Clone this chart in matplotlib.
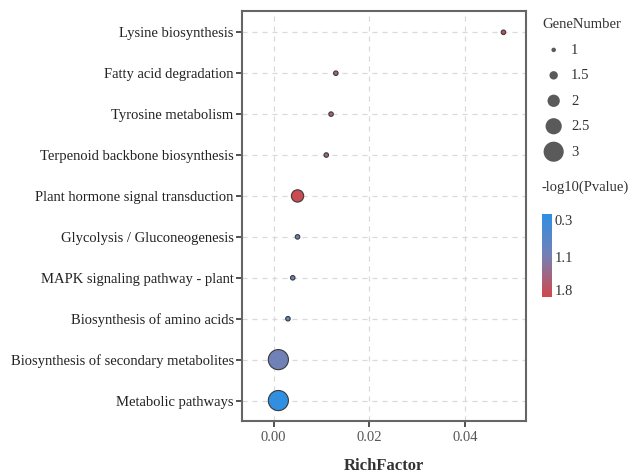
import matplotlib
matplotlib.use("Agg")
import matplotlib.pyplot as plt
import numpy as np
from matplotlib.colors import LinearSegmentedColormap, Normalize
from matplotlib.cm import ScalarMappable

plt.rcParams['font.family'] = ['Liberation Serif', 'DejaVu Serif']

# KEGG enrichment results (bottom to top on the y axis)
pathways = [
    "Metabolic pathways",
    "Biosynthesis of secondary metabolites",
    "Biosynthesis of amino acids",
    "MAPK signaling pathway - plant",
    "Glycolysis / Gluconeogenesis",
    "Plant hormone signal transduction",
    "Terpenoid backbone biosynthesis",
    "Tyrosine metabolism",
    "Fatty acid degradation",
    "Lysine biosynthesis",
]
rich_factor = [0.001, 0.001, 0.003, 0.004, 0.005, 0.005, 0.011, 0.012, 0.013, 0.048]
gene_number = [3, 3, 1, 1, 1, 2, 1, 1, 1, 1]
neg_log10_p = [0.2, 1.0, 0.85, 0.9, 0.95, 1.9, 1.45, 1.5, 1.5, 1.85]

size_breaks = [1, 1.5, 2, 2.5, 3]
color_breaks = [0.3, 1.1, 1.8]
color_limits = (0.17, 1.95)


def marker_area(n):
    # diameter grows linearly with gene count; returned in points^2
    d_px = 4.5 + 7.8 * (np.asarray(n, dtype=float) - 1)
    return (d_px * 0.72) ** 2


cmap = LinearSegmentedColormap.from_list(
    "p_grad", ["#2f8fe3", "#7580b4", "#d0484c"])
norm = Normalize(*color_limits)

fig = plt.figure(figsize=(6.29, 4.74), dpi=100)
ax = fig.add_axes([0.3847, 0.1118, 0.4515, 0.865])

ypos = np.arange(len(pathways))
ax.set_axisbelow(True)
ax.grid(True, color="#d9d9d9", linestyle=(0, (4, 4)), linewidth=0.9)
ax.scatter(rich_factor, ypos, s=marker_area(gene_number), c=neg_log10_p,
           cmap=cmap, norm=norm, edgecolors="#3a3a3a", linewidths=0.8,
           zorder=3)

ax.set_yticks(ypos)
ax.set_yticklabels(pathways, fontsize=10.5, color="#222222")
ax.set_xticks([0.0, 0.02, 0.04])
ax.set_xticklabels(["0.00", "0.02", "0.04"], fontsize=10.5, color="#555555")
ax.set_xlim(-0.0066, 0.0527)
ax.set_ylim(-0.5, 9.52)
ax.tick_params(axis="both", direction="out", length=4, width=1.2,
               color="#333333", pad=2)
ax.tick_params(axis="x", pad=3)
for sp in ax.spines.values():
    sp.set_color("#666666")
    sp.set_linewidth(1.5)
ax.set_xlabel("RichFactor", fontsize=12, fontweight="bold",
              color="#333333", labelpad=10)

# size legend
handles = [ax.scatter([], [], s=marker_area(v), color="#5a5a5a",
                      edgecolors="none") for v in size_breaks]
leg = fig.legend(handles, [f"{v:g}" for v in size_breaks],
                 title="GeneNumber", loc="upper left",
                 bbox_to_anchor=(542 / 629, 1 - 18 / 474), frameon=False,
                 fontsize=10.5, title_fontsize=10.5, labelspacing=0.84,
                 handletextpad=0.4, handlelength=1.6, borderaxespad=0,
                 borderpad=0)
leg._legend_box.align = "left"
leg._legend_box.sep = 9
for t in leg.get_texts():
    t.set_color("#333333")
leg.get_title().set_color("#333333")

# colour bar
cax = fig.add_axes([541.5 / 629, 1 - 297 / 474, 10.5 / 629, 83 / 474])
sm = ScalarMappable(norm=norm, cmap=cmap)
cb = fig.colorbar(sm, cax=cax, ticks=color_breaks)
cb.outline.set_visible(False)
cax.invert_yaxis()
cax.tick_params(length=0, labelsize=10.5, labelcolor="#333333", pad=2)
cax.set_yticklabels([f"{v:g}" for v in color_breaks])
fig.text(542 / 629, 1 - 187 / 474, "-log10(Pvalue)", fontsize=10.5,
         color="#333333", ha="left", va="center")

fig.savefig("out.png", dpi=100)
